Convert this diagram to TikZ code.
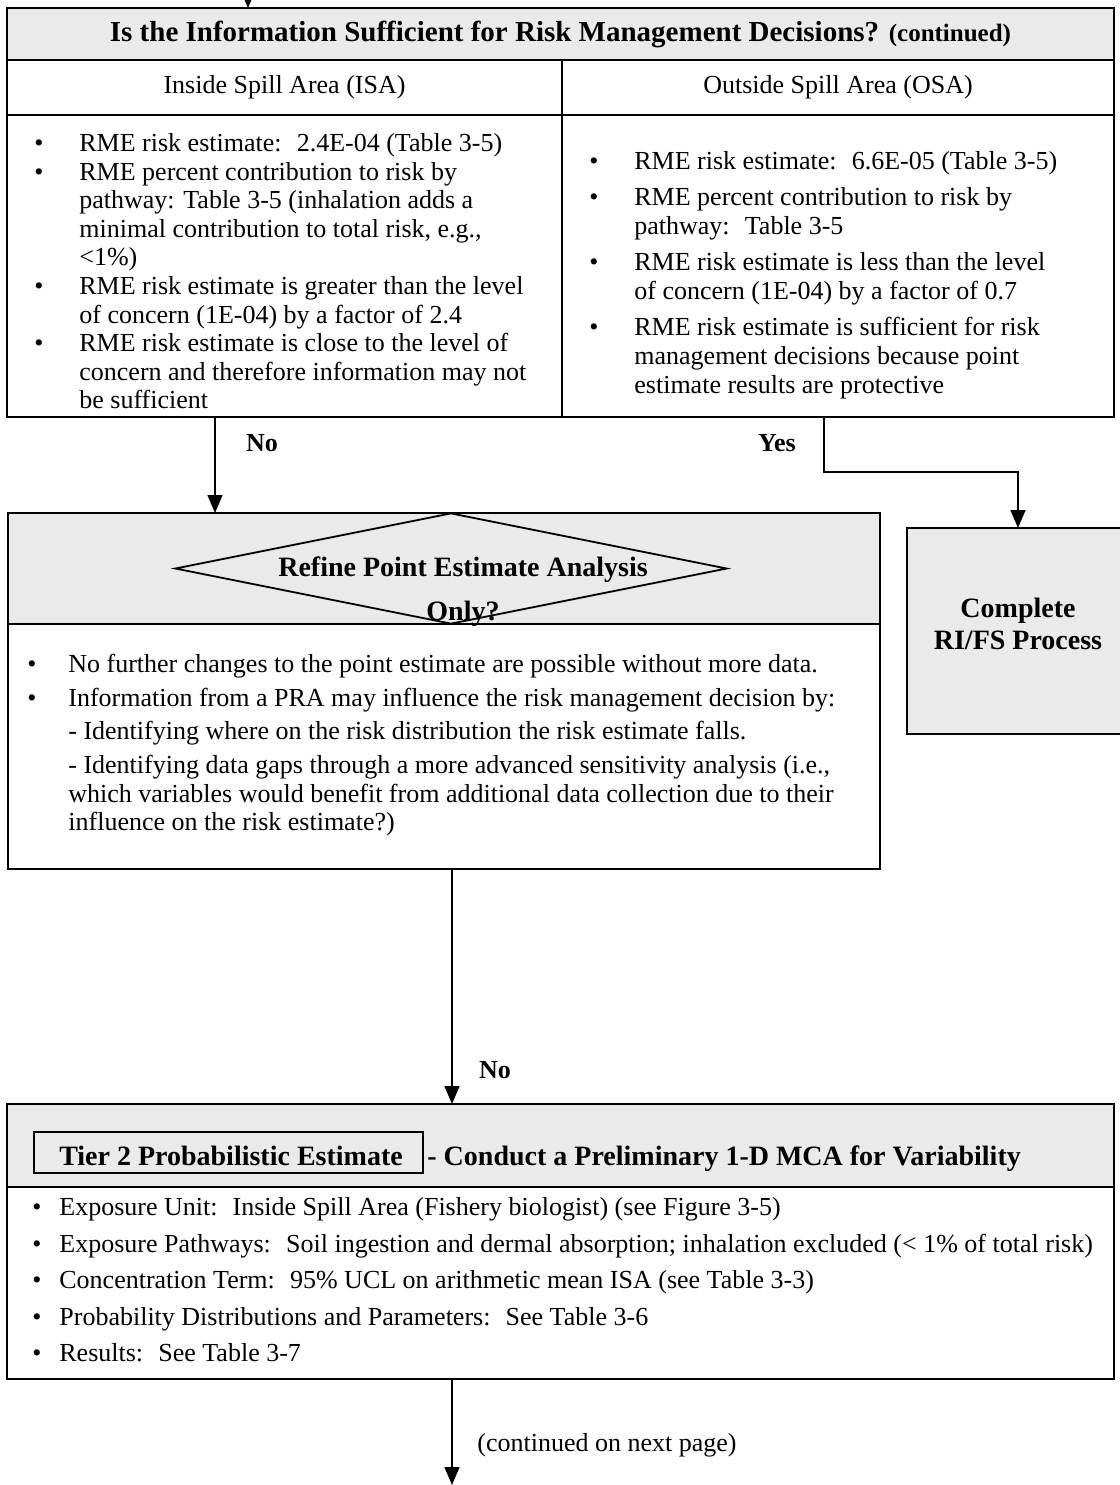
\documentclass[tikz,border=0pt]{standalone}
\usepackage{fontspec}
\setmainfont{Liberation Serif}
\usetikzlibrary{positioning, arrows.meta, shapes.geometric}
\definecolor{hdrgray}{HTML}{EAEAEA}
\newcommand{\bl}[1][18pt]{\llap{\textbullet\hspace{#1}}\ignorespaces}
\tikzset{
	x=0.5pt, y=-0.5pt,
	>={Triangle[length=9pt, width=7.5pt]},
	pxsize/.style 2 args={minimum width=#1*0.5pt, minimum height=#2*0.5pt},
	frame/.style={draw, line width=0.9pt, inner sep=0pt, outer sep=0pt},
	grayframe/.style={frame, fill=hdrgray},
	bodytext/.style={anchor=north west, align=left, inner sep=0pt, font=\fontsize{13}{14.3}\selectfont},
	boldtext/.style={inner sep=0pt, align=center, font=\fontsize{14}{16}\selectfont\bfseries},
	answer/.style={inner sep=0pt, font=\fontsize{13}{15}\selectfont\bfseries},
	flow/.style={->, line width=0.75pt}
}

\begin{document}
\begin{tikzpicture}
	\useasboundingbox (0,0) rectangle (1120,1485);

	% first question, split in two areas
	\node[grayframe, pxsize={1107}{52}, anchor=north west, boldtext, font=\fontsize{14.5}{16}\selectfont\bfseries] (suffhdr) at (7,8)
		{Is the Information Sufficient for Risk Management Decisions? {\fontsize{12.5}{14}\selectfont(continued)}};
	\node[frame, pxsize={555}{55}, anchor=north west, font=\fontsize{13}{15}\selectfont] (isahdr) at (7,60) {Inside Spill Area (ISA)};
	\node[frame, pxsize={552}{55}, anchor=north west, font=\fontsize{13}{15}\selectfont] (osahdr) at (562,60) {Outside Spill Area (OSA)};
	\node[frame, pxsize={555}{302}, anchor=north west] (isa) at (7,115) {};
	\node[frame, pxsize={552}{302}, anchor=north west] (osa) at (562,115) {};
	\node[bodytext] (isatxt) at (79,133) {\bl RME risk estimate: \ 2.4E-04 (Table 3-5)\\
		\bl RME percent contribution to risk by\\
		pathway: Table 3-5 (inhalation adds a\\
		minimal contribution to total risk, e.g.,\\
		<1\%)\\
		\bl RME risk estimate is greater than the level\\
		of concern (1E-04) by a factor of 2.4\\
		\bl RME risk estimate is close to the level of\\
		concern and therefore information may not\\
		be sufficient};
	\node[bodytext, font=\fontsize{13}{14.5}\selectfont] (osatxt) at (634,151) {\bl RME risk estimate: \ 6.6E-05 (Table 3-5)\\[3.5pt]
		\bl RME percent contribution to risk by\\
		pathway: \ Table 3-5\\[3.5pt]
		\bl RME risk estimate is less than the level\\
		of concern (1E-04) by a factor of 0.7\\[3.5pt]
		\bl RME risk estimate is sufficient for risk\\
		management decisions because point\\
		estimate results are protective};

	\node[answer] (noA) at (262,443) {No};
	\node[answer] (yesA) at (777,443) {Yes};

	% refine the point estimate?
	\node[grayframe, pxsize={872}{111}, anchor=north west] (refhdr) at (8,513) {};
	\node[frame, pxsize={872}{245}, anchor=north west] (refbody) at (8,624) {};
	\node[draw, diamond, line width=0.9pt, pxsize={552}{111}, inner sep=0pt] (refq) at (451,568.5) {};
	\node[boldtext, font=\fontsize{14}{22}\selectfont\bfseries] (refqtxt) at (463,592) {Refine Point Estimate Analysis\\Only?};
	\node[bodytext] (reftxt) at (68,654) {\bl[16pt] No further changes to the point estimate are possible without more data.\\[2.5pt]
		\bl[16pt] Information from a PRA may influence the risk management decision by:\\[2.5pt]
		- Identifying where on the risk distribution the risk estimate falls.\\[2.5pt]
		- Identifying data gaps through a more advanced sensitivity analysis (i.e.,\\
		which variables would benefit from additional data collection due to their\\
		influence on the risk estimate?)};

	\node[grayframe, pxsize={222}{206}, anchor=north west] (done) at (907,528) {};
	\node[boldtext] (donetxt) at (1018,624) {Complete\\RI/FS Process};

	% tier 2
	\node[grayframe, pxsize={1107}{83}, anchor=north west] (tierhdr) at (7,1104) {};
	\node[frame, pxsize={1107}{192}, anchor=north west] (tierbody) at (7,1187) {};
	\node[frame, pxsize={389}{41}, anchor=north west] (tiername) at (34,1132) {};
	\node[boldtext] (tiernametxt) at (231,1156) {Tier 2 Probabilistic Estimate};
	\node[boldtext, anchor=base west] (tiertask) at ([xshift=2pt]tiername.east |- tiernametxt.base) {- Conduct a Preliminary 1-D MCA for Variability};
	\node[bodytext] (tiertxt) at (59,1197) {\bl[9pt] Exposure Unit: \ Inside Spill Area (Fishery biologist) (see Figure 3-5)\\[4pt]
		\bl[9pt] Exposure Pathways: \ Soil ingestion and dermal absorption; inhalation excluded (< 1\% of total risk)\\[4pt]
		\bl[9pt] Concentration Term: \ 95\% UCL on arithmetic mean ISA (see Table 3-3)\\[4pt]
		\bl[9pt] Probability Distributions and Parameters: \ See Table 3-6\\[4pt]
		\bl[9pt] Results: \ See Table 3-7};

	% connectors
	\coordinate (topin) at (248,-20);
	\coordinate (colA) at (215,0);
	\coordinate (colB) at (824,0);
	\coordinate (colC) at (452,0);
	\coordinate (nextpage) at (452,1485);
	\draw[flow] (topin) -- (topin |- suffhdr.north);
	\draw[flow] (isa.south -| colA) -- (refhdr.north -| colA);
	\draw[flow] (osa.south -| colB) -- ++(0,55) -| (done.north -| donetxt);
	\draw[flow] (refbody.south -| colC) -- (tierhdr.north -| colC);
	\draw[flow] (tierbody.south -| colC) -- (nextpage);
	\node[answer] (noB) at (495,1070) {No};
	\node[font=\fontsize{13}{15}\selectfont, inner sep=0pt] (contd) at (607,1445) {(continued on next page)};
\end{tikzpicture}
\end{document}
